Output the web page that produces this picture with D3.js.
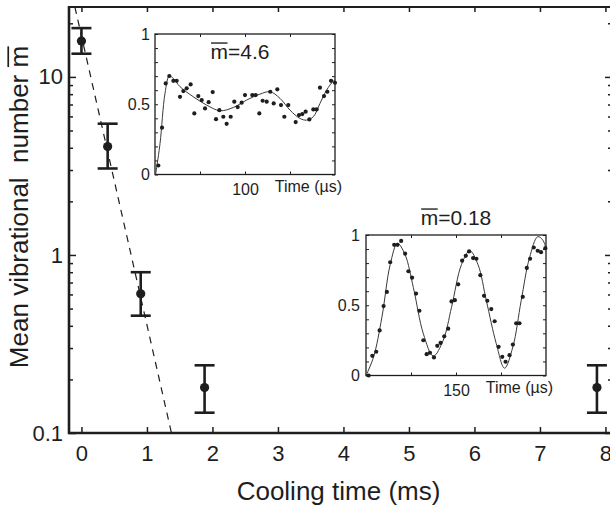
<!DOCTYPE html>
<html><head><meta charset="utf-8">
<script src="https://cdn.jsdelivr.net/npm/d3@7"></script>
<style>
html,body{margin:0;padding:0;background:#fff;}
text{font-family:"Liberation Sans",Arial,Helvetica,sans-serif;fill:#1e1e1e;}
</style></head>
<body>
<svg id="c" width="610" height="509"></svg>
<script>
// ---------- main data ----------
const coolTime = [0, 0.40, 0.905, 1.88, 7.87];           // ms
const meanN    = [15.9, 4.06, 0.605, 0.18, 0.18];
const errLow   = [13.5, 3.06, 0.456, 0.13, 0.13];
const errHigh  = [18.8, 5.46, 0.80, 0.24, 0.24];
const xTicks   = [0,1,2,3,4,5,6,7,8];
const yMajor   = [0.1, 1, 10];
const yMinor   = [0.2,0.3,0.4,0.5,0.6,0.7,0.8,0.9,2,3,4,5,6,7,8,9,20];
const fitTime  = [-0.1, 1.374];
const fitN     = [24.7, 0.1];

// ---------- inset 1 (m = 4.6) ----------
const in1T = [3.7,7.8,11.9,15.9,20.4,24.1,27.8,31.5,35.2,39.6,43.7,48.1,51.9,55.6,59.6,64.1,67.8,71.5,75.9,79.6,84.1,88.1,91.9,96.3,100.0,108.1,111.9,115.9,119.6,124.1,128.1,131.9,135.9,140.0,143.7,148.1,156.3,160.0,163.7,167.4,171.5,175.9,179.6,183.3,187.8,191.5,195.6,200.0];
const in1P = [0.064,0.333,0.648,0.701,0.667,0.667,0.553,0.594,0.613,0.641,0.435,0.558,0.530,0.470,0.515,0.587,0.394,0.458,0.411,0.361,0.411,0.518,0.480,0.511,0.565,0.565,0.565,0.435,0.525,0.518,0.589,0.506,0.606,0.494,0.411,0.494,0.373,0.423,0.430,0.447,0.392,0.463,0.463,0.618,0.558,0.589,0.667,0.653];
const in1FitT = [0.7,5.6,11.1,15.9,20.4,27.8,42.6,57.4,72.2,87.0,101.9,116.7,127.8,138.9,150.0,161.1,168.5,175.9,183.3,190.7,198.1,200];
const in1FitP = [0.002,0.221,0.577,0.701,0.684,0.625,0.553,0.494,0.454,0.477,0.530,0.572,0.589,0.542,0.458,0.399,0.387,0.411,0.506,0.601,0.665,0.672];
const in1XTicks = [50,100,150];
const in1XLabel = "100";

// ---------- inset 2 (m = 0.18) ----------
const in2T = [4.4,10.5,17.1,22.7,29.3,34.8,40.3,47.0,52.5,58.6,65.2,70.7,76.8,83.4,89.0,95.6,101.1,106.6,113.3,118.8,124.3,130.4,137.0,142.5,148.1,153.6,160.2,166.3,171.8,178.5,184.0,190.6,196.7,202.2,208.8,214.4,221.0,227.1,232.6,239.2,244.8,250.3,255.8,261.3,268.0,273.5,279.6,286.2,291.7,298.9];
const in2P = [0,0.14,0.169,0.321,0.494,0.595,0.806,0.930,0.930,0.958,0.867,0.742,0.696,0.583,0.461,0.251,0.152,0.162,0.129,0.211,0.232,0.279,0.333,0.527,0.536,0.649,0.817,0.852,0.883,0.836,0.831,0.714,0.567,0.532,0.473,0.386,0.204,0.133,0.098,0.145,0.220,0.372,0.372,0.560,0.766,0.831,0.911,0.888,0.878,0.906];
const in2FitT = [0,12.7,26.5,40.3,52.5,65.2,79.0,95.6,112.2,128.7,142.5,159.1,172.9,186.7,200.6,217.1,230.9,244.8,258.6,272.4,286.2,294.5,300];
const in2FitP = [0,0.133,0.415,0.789,0.941,0.859,0.625,0.297,0.138,0.251,0.485,0.789,0.888,0.789,0.532,0.227,0.052,0.204,0.532,0.836,0.988,0.965,0.906];
const in2XTicks = [75,150,225];
const in2XLabel = "150";

const inYTicks = [0,0.1,0.2,0.3,0.4,0.5,0.6,0.7,0.8,0.9,1];
const inYLabels = [0,0.5,1];

// ---------- drawing ----------
const svg = d3.select("#c");
const INK = "#1e1e1e";

const x = d3.scaleLinear().domain([-0.19, 8.1]).range([69, 612]);
const y = d3.scaleLog().domain([0.1, 24.7]).range([433, 7]);
const [X0, X1] = x.range(), [Y0, Y1] = y.range();

svg.append("clipPath").attr("id","clipMain").append("rect")
  .attr("x",X0).attr("y",Y1).attr("width",X1-X0).attr("height",Y0-Y1);

function styleAxis(g, fs){
  g.select(".domain").remove();
  g.selectAll(".tick line").attr("stroke",INK).attr("stroke-width",1.5);
  g.selectAll(".tick text").attr("font-size",fs).attr("fill",INK)
    .style("font-family",'"Liberation Sans",Arial,sans-serif');
}

// bottom axis
svg.append("g").attr("transform",`translate(0,${Y0})`)
  .call(d3.axisBottom(x).tickValues(xTicks).tickFormat(d3.format("d")).tickSizeInner(-6).tickSizeOuter(0).tickPadding(12))
  .call(g=>styleAxis(g,22));
// top axis
svg.append("g").attr("transform",`translate(0,${Y1})`)
  .call(d3.axisTop(x).tickValues(xTicks).tickFormat("").tickSizeInner(-5).tickSizeOuter(0))
  .call(g=>styleAxis(g,22));
// left axis
svg.append("g").attr("transform",`translate(${X0},0)`)
  .call(d3.axisLeft(y).tickValues(yMajor).tickFormat(d=>String(d)).tickSizeInner(-7).tickSizeOuter(0).tickPadding(6))
  .call(g=>styleAxis(g,22));
svg.append("g").attr("transform",`translate(${X0},0)`)
  .call(d3.axisLeft(y).tickValues(yMinor).tickFormat("").tickSizeInner(-4).tickSizeOuter(0))
  .call(g=>styleAxis(g,22));
// right axis
svg.append("g").attr("transform",`translate(${X1},0)`)
  .call(d3.axisRight(y).tickValues(yMajor).tickFormat("").tickSizeInner(-7).tickSizeOuter(0))
  .call(g=>styleAxis(g,22));
svg.append("g").attr("transform",`translate(${X1},0)`)
  .call(d3.axisRight(y).tickValues(yMinor).tickFormat("").tickSizeInner(-4).tickSizeOuter(0))
  .call(g=>styleAxis(g,22));

// frame
svg.append("path").attr("d",`M${X0},${Y1}H${X1}`).attr("stroke",INK).attr("stroke-width",2);
svg.append("path").attr("d",`M${X0},${Y1-1}V${Y0}H${X1}`).attr("fill","none").attr("stroke",INK).attr("stroke-width",2.6);
svg.append("path").attr("d",`M${X1},${Y1}V${Y0}`).attr("stroke",INK).attr("stroke-width",2.6);

// dashed fit
const fitData = fitTime.map((t,i)=>({t, m:fitN[i]}));
svg.append("path").datum(fitData)
  .attr("clip-path","url(#clipMain)")
  .attr("d", d3.line().x(d=>x(d.t)).y(d=>y(d.m)))
  .attr("fill","none").attr("stroke",INK).attr("stroke-width",1.2).attr("stroke-dasharray","7,6");

// error bars
const pts = coolTime.map((t,i)=>({t, m:meanN[i], lo:errLow[i], hi:errHigh[i]}));
const eb = svg.append("g").attr("stroke",INK).attr("stroke-width",2.6).attr("fill","none");
pts.forEach(p=>{
  const cx = x(p.t);
  eb.append("line").attr("x1",cx).attr("x2",cx).attr("y1",y(p.lo)).attr("y2",y(p.hi));
  eb.append("line").attr("x1",cx-10).attr("x2",cx+10).attr("y1",y(p.lo)).attr("y2",y(p.lo));
  eb.append("line").attr("x1",cx-10).attr("x2",cx+10).attr("y1",y(p.hi)).attr("y2",y(p.hi));
});
svg.append("g").selectAll("circle").data(pts).join("circle")
  .attr("cx",d=>x(d.t)).attr("cy",d=>y(d.m)).attr("r",4.6).attr("fill",INK);

// helper: overline above first char of a text node
function overlineFirst(textSel, parent, fs){
  const node = textSel.node();
  const s = node.getStartPositionOfChar(0), e = node.getEndPositionOfChar(0);
  const by = +textSel.attr("y");
  parent.append("line").attr("x1",s.x+0.5).attr("x2",e.x-0.5)
    .attr("y1",by-0.76*fs).attr("y2",by-0.76*fs)
    .attr("stroke",INK).attr("stroke-width",Math.max(1,fs*0.065));
}

// axis titles
svg.append("text").attr("x",(X0+X1)/2 - 2).attr("y",500).attr("text-anchor","middle")
  .attr("font-size",26).text("Cooling time (ms)");
const yl = svg.append("g").attr("transform","translate(28,207) rotate(-90)");
const ylt = yl.append("text").attr("x",0).attr("y",0).attr("text-anchor","middle")
  .attr("font-size",26).attr("xml:space","preserve").style("white-space","pre")
  .text("Mean vibrational  number m");
{
  const node = ylt.node(); const n = node.getNumberOfChars();
  const s = node.getStartPositionOfChar(n-1), e = node.getEndPositionOfChar(n-1);
  yl.append("line").attr("x1",s.x+0.5).attr("x2",e.x-0.5).attr("y1",-0.76*26).attr("y2",-0.76*26)
    .attr("stroke",INK).attr("stroke-width",1.7);
}

// insets
function drawInset(cfg){
  const g = svg.append("g");
  const ix = d3.scaleLinear().domain([0,cfg.tmax]).range(cfg.xr);
  const iy = d3.scaleLinear().domain([0,1]).range(cfg.yr);
  const [a,b] = ix.range(), [c0,c1] = iy.range();
  g.append("rect").attr("x",a).attr("y",c1).attr("width",b-a).attr("height",c0-c1)
    .attr("fill","#fff").attr("stroke","none");
  // ticks
  g.append("g").attr("transform",`translate(0,${c0})`)
    .call(d3.axisBottom(ix).tickValues(cfg.xticks).tickFormat(d=>d===+cfg.xlabel? cfg.xlabel:"").tickSizeInner(-3).tickSizeOuter(0).tickPadding(9))
    .call(gg=>{styleAxis(gg,16); gg.selectAll(".tick line").attr("stroke-width",1);});
  g.append("g").attr("transform",`translate(0,${c1})`)
    .call(d3.axisTop(ix).tickValues(cfg.xticks).tickFormat("").tickSizeInner(-3).tickSizeOuter(0))
    .call(gg=>{styleAxis(gg,16); gg.selectAll(".tick line").attr("stroke-width",1);});
  g.append("g").attr("transform",`translate(${a},0)`)
    .call(d3.axisLeft(iy).tickValues(inYTicks).tickFormat(d=>inYLabels.some(v=>Math.abs(v-d)<1e-9)? String(+d.toFixed(1)):"").tickSizeInner(-3).tickSizeOuter(0).tickPadding(cfg.ypad))
    .call(gg=>{styleAxis(gg,16); gg.selectAll(".tick line").attr("stroke-width",1);});
  g.append("g").attr("transform",`translate(${b},0)`)
    .call(d3.axisRight(iy).tickValues(inYTicks).tickFormat("").tickSizeInner(-3).tickSizeOuter(0))
    .call(gg=>{styleAxis(gg,16); gg.selectAll(".tick line").attr("stroke-width",1);});
  g.append("rect").attr("x",a).attr("y",c1).attr("width",b-a).attr("height",c0-c1)
    .attr("fill","none").attr("stroke",INK).attr("stroke-width",1.3);
  // fit curve
  const fd = cfg.fitT.map((t,i)=>({t,p:cfg.fitP[i]}));
  g.append("path").datum(fd)
    .attr("d", d3.line().x(d=>ix(d.t)).y(d=>iy(d.p)).curve(d3.curveCatmullRom.alpha(0.5)))
    .attr("fill","none").attr("stroke","#3a3a3a").attr("stroke-width",1);
  // points
  const pd = cfg.t.map((t,i)=>({t,p:cfg.p[i]}));
  g.append("g").selectAll("circle").data(pd).join("circle")
    .attr("cx",d=>ix(d.t)).attr("cy",d=>iy(d.p)).attr("r",2.1).attr("fill",INK);
  // x title
  g.append("text").attr("x",b+7).attr("y",c0+17).attr("text-anchor","end")
    .attr("font-size",16).text("Time (\u00B5s)");
  // title
  const tt = g.append("text").attr("x",cfg.title[0]).attr("y",cfg.title[1]).attr("text-anchor","middle")
    .attr("font-size",21).text(cfg.titleText);
  overlineFirst(tt, g, 21);
}

drawInset({tmax:200, xr:[155,335], yr:[174.5,34], xticks:in1XTicks, xlabel:in1XLabel, ypad:5,
  t:in1T, p:in1P, fitT:in1FitT, fitP:in1FitP, title:[240,59], titleText:"m=4.6"});
drawInset({tmax:300, xr:[366,546], yr:[375.5,235], xticks:in2XTicks, xlabel:in2XLabel, ypad:6,
  t:in2T, p:in2P, fitT:in2FitT, fitP:in2FitP, title:[456,225], titleText:"m=0.18"});
</script>
</body></html>
